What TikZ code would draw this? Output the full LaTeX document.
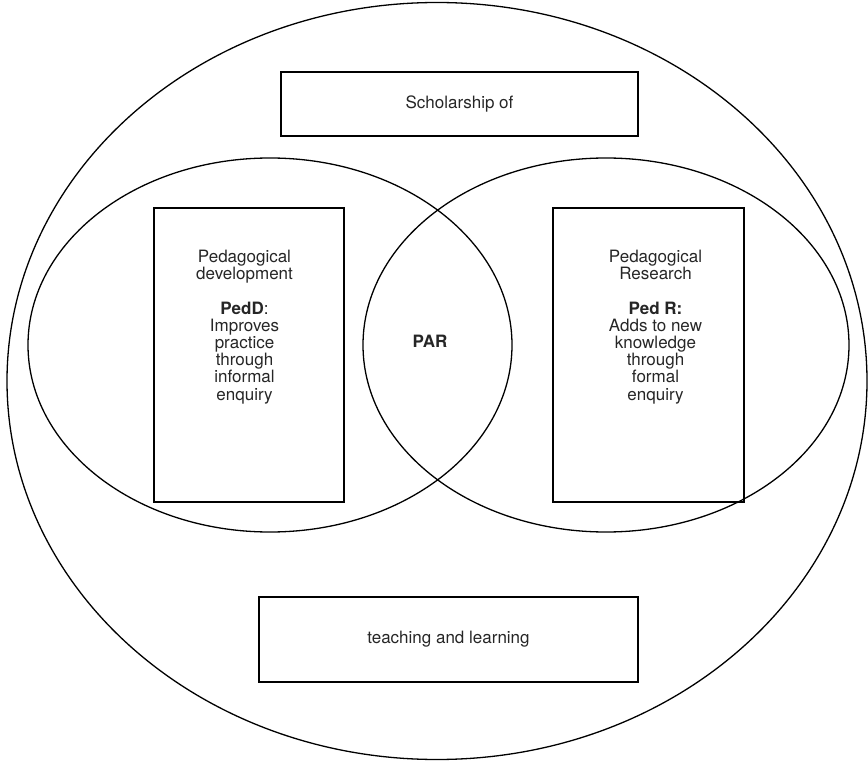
\documentclass[tikz,border=0pt]{standalone}
\usepackage{fontspec}
\setmainfont{TeX Gyre Heros}
\usetikzlibrary{shapes.geometric}

\begin{document}
\begin{tikzpicture}[x=1pt,y=-1pt,
  ring/.style={ellipse, draw=black, line width=1.3pt, inner sep=0pt, outer sep=0pt},
  panel/.style={rectangle, draw=black, line width=1.5pt, inner sep=0pt, outer sep=0pt,
    font=\fontsize{17}{17.2}\selectfont, text=black!85},
  caption/.style={font=\fontsize{17}{17.2}\selectfont, text=black!85, align=center, inner sep=0pt}]
\useasboundingbox (0,0) rectangle (868,762);

% outer boundary and the two overlapping fields
\node[ring, minimum width=860pt, minimum height=757pt] (outer) at (437,381) {};
\node[ring, minimum width=484pt, minimum height=374pt] (pedd) at (270,345) {};
\node[ring, minimum width=486pt, minimum height=374pt] (pedr) at (606,345) {};

% heading and footing boxes
\node[panel, minimum width=357pt, minimum height=64pt] (top) at (459.5,104) {Scholarship of};
\node[panel, minimum width=379pt, minimum height=85pt] (bottom) at (448.5,639.5) {teaching and learning};

% inner boxes
\node[panel, minimum width=190pt, minimum height=294pt] (leftbox) at (249,355) {};
\node[panel, minimum width=191pt, minimum height=294pt] (rightbox) at (648.5,355) {};

\node[caption, anchor=north] (lefttext) at (244.5,250)
  {Pedagogical\\development\\[17.2pt]\textbf{PedD}:\\Improves\\practice\\through\\informal\\enquiry};
\node[caption, anchor=north] (righttext) at (655.5,250)
  {Pedagogical\\Research\\[17.2pt]\textbf{Ped R:}\\Adds to new\\knowledge\\through\\formal\\enquiry};

\node[caption] (par) at (430,341) {\textbf{PAR}};
\end{tikzpicture}
\end{document}
